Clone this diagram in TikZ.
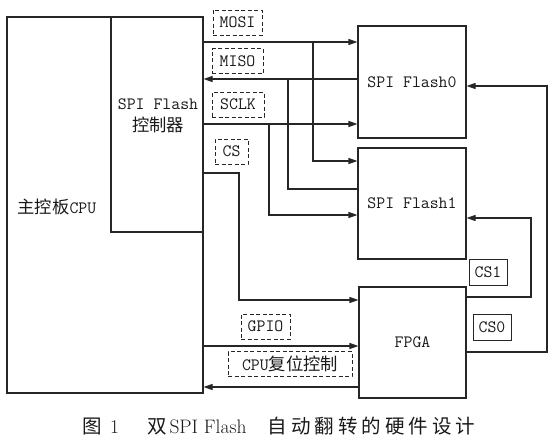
\documentclass[tikz,border=0pt]{standalone}
\usepackage{fontspec}
\newfontfamily\cjk{Noto Sans CJK SC}
\newcommand\capgap{\hspace{4pt}}
\usetikzlibrary{arrows.meta}
\begin{document}
\begin{tikzpicture}[x=1pt,y=-1pt,line width=1.1pt,draw=black!85,
  every node/.style={font=\fontsize{17.3}{22}\selectfont\ttfamily, text=black!90},
  box/.style={draw, rectangle, inner sep=0pt},
  tag/.style={draw, rectangle, inner sep=0pt, minimum height=25pt, line width=1pt, dash pattern=on 4pt off 2.5pt},
  cstag/.style={draw, rectangle, inner sep=0pt, minimum width=38pt, minimum height=26pt, line width=1pt},
  sig/.style={-{Triangle[length=9pt,width=6pt]}}]
\useasboundingbox (0,0) rectangle (557,447);
\node[box, minimum width=196pt, minimum height=376pt] (cpu) at (105,205){};
\node[box, minimum width=92pt, minimum height=215pt] (ctrl) at (157,124.5){};
\node (cpulbl) at (57,207){{\cjk 主控板}CPU};
\node[align=center] (ctrllbl) at (158,116){SPI Flash\\{\cjk 控制器}};
\node[box, minimum width=108pt, minimum height=112pt] (flash0) at (412,82){SPI Flash0};
\node[box, minimum width=108pt, minimum height=111pt] (flash1) at (412,203.5){SPI Flash1};
\node[box, minimum width=107pt, minimum height=111pt] (fpga) at (412.5,342.5){FPGA};
\coordinate (mosi) at (313,42);
\coordinate (mosi1) at (313,161);
\coordinate (miso) at (288,79);
\coordinate (miso1) at (288,189);
\coordinate (sclk) at (269,124);
\coordinate (sclk1) at (269,215);
\coordinate (cs) at (239,173);
\coordinate (cs2) at (239,300);
\coordinate (gpio) at (300,346);
\coordinate (rst) at (300,387);
\coordinate (cs1lo) at (531,297);
\coordinate (cs1hi) at (531,218);
\coordinate (cs0lo) at (547,352);
\coordinate (cs0hi) at (547,86);
\draw[sig] (ctrl.east |- mosi) -- (flash0.west |- mosi);
\draw[sig] (mosi) |- (flash1.west |- mosi1);
\draw[sig] (flash0.west |- miso) -- (ctrl.east |- miso);
\draw[] (miso) |- (flash1.west |- miso1);
\draw[sig] (ctrl.east |- sclk) -- (flash0.west |- sclk);
\draw[sig] (sclk) |- (flash1.west |- sclk1);
\draw[sig] (ctrl.east |- cs) -- (cs) |- (fpga.west |- cs2);
\draw[sig] (cpu.east |- gpio) -- (fpga.west |- gpio);
\draw[sig] (fpga.west |- rst) -- (cpu.east |- rst);
\draw[sig] (fpga.east |- cs1lo) -- (cs1lo) -- (cs1hi) -- (flash1.east |- cs1hi);
\draw[sig] (fpga.east |- cs0lo) -- (cs0lo) -- (cs0hi) -- (flash0.east |- cs0hi);
\node[tag, minimum width=49pt] (mosilbl) at (237.5,22.5){MOSI};
\node[tag, minimum width=51pt] (misolbl) at (237.5,61){MISO};
\node[tag, minimum width=52pt] (sclklbl) at (238,104.5){SCLK};
\node[tag, minimum width=33pt] (cslbl) at (231.5,151.5){CS};
\node[tag, minimum width=49pt] (gpiolbl) at (265.5,326.5){GPIO};
\node[tag, minimum width=124pt] (rstlbl) at (290,364){CPU{\cjk 复位控制}};
\node[cstag] (cs1lbl) at (488,272){CS1};
\node[cstag] (cs0lbl) at (492,327){CS0};
\node[anchor=west, inner sep=0pt, font=\fontsize{19.5}{22}\selectfont\rmfamily] (cap) at (82,426){{\cjk 图}\hspace{8pt}1\hspace{28pt}{\cjk 双}\hspace{3pt}SPI Flash\hspace{21pt}{\cjk 自\capgap 动\capgap 翻\capgap 转\capgap 的\capgap 硬\capgap 件\capgap 设\capgap 计}};
\end{tikzpicture}
\end{document}
